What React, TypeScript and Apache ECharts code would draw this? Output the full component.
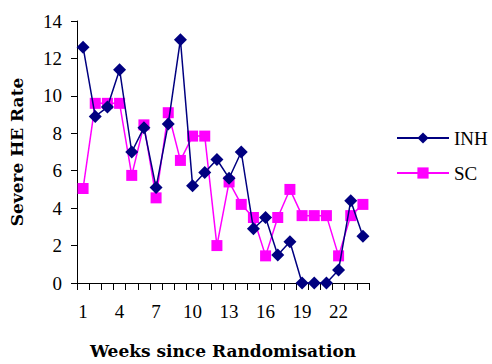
import React, { useEffect, useRef } from "react";
import * as echarts from "echarts";

const weeks = Array.from({ length: 24 }, (_, i) => String(i + 1));
const inhValues = [12.6, 8.9, 9.4, 11.4, 7.0, 8.3, 5.1, 8.5, 13.0, 5.2, 5.9, 6.6, 5.6, 7.0, 2.9, 3.5, 1.5, 2.2, 0, 0, 0, 0.7, 4.4, 2.5];
const scValues = [5.05, 9.6, 9.6, 9.6, 5.75, 8.45, 4.55, 9.1, 6.55, 7.85, 7.85, 2.0, 5.4, 4.2, 3.5, 1.45, 3.5, 5.0, 3.6, 3.6, 3.6, 1.45, 3.6, 4.2];

const serif = "'Liberation Serif', 'Times New Roman', serif";
const titleFont = "'DejaVu Serif', serif";

export default function App() {
  const ref = useRef<HTMLDivElement>(null);
  useEffect(() => {
    if (!ref.current) return;
    const chart = echarts.init(ref.current, null, { renderer: "svg" });
    chart.setOption({
      animation: false,
      backgroundColor: "#ffffff",
      grid: { left: 77, right: 123, top: 21, bottom: 75, containLabel: false },
      legend: {
        orient: "vertical",
        left: 391,
        top: 123,
        itemWidth: 52,
        itemHeight: 14,
        itemGap: 15,
        textStyle: { fontFamily: serif, fontSize: 19, lineHeight: 20, color: "#000" },
        data: ["INH", "SC"],
      },
      xAxis: {
        type: "category",
        data: weeks,
        boundaryGap: true,
        name: "Weeks since Randomisation",
        nameLocation: "middle",
        nameGap: 59,
        nameTextStyle: { fontFamily: titleFont, fontSize: 17, fontWeight: "bold", color: "#000" },
        axisLine: { lineStyle: { color: "#000", width: 1 } },
        axisTick: { show: true, interval: 0, length: 7, lineStyle: { color: "#000" } },
        axisLabel: { interval: 2, margin: 19, fontFamily: serif, fontSize: 19, color: "#000" },
        splitLine: { show: false },
      },
      yAxis: {
        type: "value",
        min: 0,
        max: 14,
        interval: 2,
        name: "Severe HE Rate",
        nameLocation: "middle",
        nameGap: 52,
        nameTextStyle: { fontFamily: titleFont, fontSize: 17, fontWeight: "bold", color: "#000" },
        axisLine: { show: true, lineStyle: { color: "#000", width: 1 } },
        axisTick: { show: true, length: 6, lineStyle: { color: "#000" } },
        axisLabel: { margin: 15, fontFamily: serif, fontSize: 19, color: "#000" },
        splitLine: { show: false },
      },
      series: [
        {
          name: "INH",
          type: "line",
          data: inhValues,
          symbol: "diamond",
          symbolSize: 13,
          showAllSymbol: true,
          lineStyle: { color: "#000080", width: 1.5 },
          itemStyle: { color: "#000080" },
          z: 3,
        },
        {
          name: "SC",
          type: "line",
          data: scValues,
          symbol: "rect",
          symbolSize: 11,
          showAllSymbol: true,
          lineStyle: { color: "#ff00ff", width: 1.5 },
          itemStyle: { color: "#ff00ff" },
          z: 2,
        },
      ],
    });
    return () => chart.dispose();
  }, []);
  return <div ref={ref} style={{ width: 492, height: 364, position: "absolute", left: 0, top: 0 }} />;
}
